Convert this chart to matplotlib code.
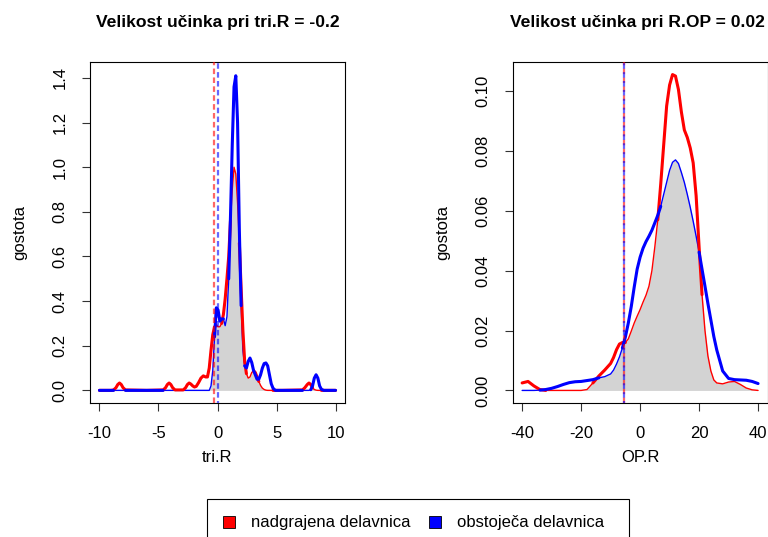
import numpy as np
import matplotlib
matplotlib.use("Agg")
import matplotlib.pyplot as plt
from matplotlib.patches import Rectangle

plt.rcParams['font.family'] = ['Liberation Sans', 'DejaVu Sans']

# ---------------- data ----------------
left_x = [-10, -9, -8.8, -8.6, -8.45, -8.3, -8.15, -8.0, -7.8, -6, -4.6, -4.4, -4.25, -4.1,
          -3.95, -3.8, -3.6, -2.9, -2.7, -2.55, -2.4, -2.25, -2.1, -1.95, -1.8, -1.6, -1.4,
          -1.2, -1.0, -0.85, -0.7, -0.55, -0.4, -0.25, -0.1, 0.05, 0.2, 0.35, 0.5, 0.65, 0.8,
          0.95, 1.1, 1.25, 1.4, 1.55, 1.7, 1.85, 2.0, 2.15, 2.3, 2.45, 2.6, 2.75, 2.9, 3.05,
          3.2, 3.35, 3.5, 3.65, 3.8, 3.95, 4.1, 4.25, 4.4, 4.55, 4.7, 4.9, 5.5, 7.2, 7.4, 7.6,
          7.75, 7.9, 8.05, 8.2, 8.35, 8.5, 8.65, 8.8, 9.0, 10]
left_red = [0, 0, 0.002, 0.012, 0.026, 0.033, 0.026, 0.012, 0.002, 0, 0.002, 0.012, 0.026, 0.033,
            0.026, 0.012, 0.002, 0.002, 0.012, 0.026, 0.033, 0.028, 0.02, 0.015, 0.018, 0.035, 0.055,
            0.065, 0.06, 0.06, 0.1, 0.18, 0.25, 0.285, 0.29, 0.285, 0.285, 0.3, 0.34, 0.41, 0.5,
            0.6, 0.76, 0.9, 1.0, 0.97, 0.84, 0.66, 0.46, 0.27, 0.13, 0.075, 0.055, 0.06, 0.08, 0.088,
            0.08, 0.06, 0.04, 0.022, 0.01, 0.004, 0.001, 0, 0, 0, 0, 0, 0, 0.002, 0.012, 0.026,
            0.033, 0.026, 0.012, 0.004, 0.001, 0, 0, 0, 0, 0]
left_blue = [0, 0, 0, 0, 0, 0, 0, 0, 0, 0, 0, 0, 0, 0,
             0, 0, 0, 0, 0, 0, 0, 0, 0, 0, 0, 0, 0,
             0, 0, 0, 0, 0.02, 0.09, 0.24, 0.37, 0.36, 0.31, 0.32, 0.32, 0.29, 0.33,
             0.5, 0.78, 1.1, 1.36, 1.41, 1.2, 0.72, 0.38, 0.18, 0.11, 0.1, 0.13, 0.145, 0.125, 0.09,
             0.07, 0.05, 0.05, 0.07, 0.1, 0.12, 0.123, 0.11, 0.07, 0.03, 0.01, 0, 0, 0, 0, 0,
             0, 0.003, 0.02, 0.055, 0.07, 0.055, 0.02, 0.005, 0, 0]
left_ref_red = -0.3
left_ref_blue = 0.02

right_x = [-40, -38, -36, -34, -32, -30, -28, -26, -24, -22, -20, -18, -16, -14, -12, -10,
           -9, -8, -7, -6, -5, -4, -3, -2, -1, 0, 1, 2, 3, 4, 5, 6, 7, 8, 9, 10, 11, 12, 13,
           14, 15, 16, 17, 18, 19, 20, 21, 22, 23, 24, 25, 26, 28, 30, 32, 34, 36, 38, 40]
right_red = [0.0025, 0.003, 0.0015, 0.0003, 0, 0, 0, 0, 0, 0, 0, 0.0003, 0.0025, 0.0048, 0.0068, 0.009,
             0.011, 0.0136, 0.0155, 0.016, 0.016, 0.0172, 0.0198, 0.0225, 0.0248, 0.027, 0.0295, 0.0318,
             0.0348, 0.040, 0.048, 0.057, 0.069, 0.082, 0.095, 0.102, 0.1055, 0.105, 0.1005,
             0.093, 0.087, 0.0845, 0.081, 0.076, 0.065, 0.048, 0.032, 0.02, 0.0115, 0.0065, 0.0035,
             0.0025, 0.0022, 0.0028, 0.003, 0.002, 0.0008, 0.0002, 0.0]
right_blue = [0, 0, 0, 0.0001, 0.0003, 0.0007, 0.0013, 0.002, 0.0026, 0.0029, 0.003, 0.0033, 0.0036,
              0.0042, 0.0046, 0.0055, 0.0068, 0.0088, 0.0112, 0.0142, 0.0178, 0.0225, 0.028, 0.0345,
              0.0405, 0.0445, 0.0475, 0.0497, 0.0515, 0.0535, 0.056, 0.0585, 0.0615, 0.0655, 0.0695,
              0.0735, 0.0762, 0.077, 0.0758, 0.0728, 0.0695, 0.0655, 0.0612, 0.0565, 0.0515, 0.0462,
              0.0405, 0.0348, 0.029, 0.0235, 0.018, 0.0135, 0.0065, 0.004, 0.0036, 0.0035, 0.0034,
              0.003, 0.0023]
right_ref_red = -5.5
right_ref_blue = -5.5

titles = ['Velikost učinka pri tri.R = -0.2', 'Velikost učinka pri R.OP = 0.02']
xlabels = ['tri.R', 'OP.R']
ylabel = 'gostota'
left_xticks = [-10, -5, 0, 5, 10]
left_yticks = [0.0, 0.2, 0.4, 0.6, 0.8, 1.0, 1.2, 1.4]
right_xticks = [-40, -20, 0, 20, 40]
right_yticks = [0.00, 0.02, 0.04, 0.06, 0.08, 0.10]
legend_labels = ['nadgrajena delavnica', 'obstoječa delavnica']
legend_colors = ['#FF0000', '#0000FF']

# ---------------- figure ----------------
W, H = 768, 537
fig = plt.figure(figsize=(W / 100, H / 100), dpi=100)


def rect(l, r, t, b):
    return [l / W, 1 - b / H, (r - l) / W, (b - t) / H]


FS = 12
TFS = 12.6


def panel(ax, x, red, blue, ref_r, ref_b, xlim, ylim, xt, yt, yfmt):
    x = np.asarray(x, float)
    red = np.asarray(red, float)
    blue = np.asarray(blue, float)
    ov = np.minimum(red, blue)
    ax.fill_between(x, 0, ov, color='#D3D3D3', lw=0, zorder=1)

    def thick_mask(a, b):
        m = a >= b - 1e-9
        m2 = m.copy()
        m2[1:] |= m[:-1]
        m2[:-1] |= m[1:]
        return m2

    mr = thick_mask(red, blue)
    mb = thick_mask(blue, red)
    ax.plot(x, red, color='#FF0000', lw=1.0, zorder=2, solid_capstyle='round')
    ax.plot(x, blue, color='#0000FF', lw=1.0, zorder=2, solid_capstyle='round')
    ax.plot(x, np.where(mr, red, np.nan), color='#FF0000', lw=2.2, zorder=3,
            solid_capstyle='round', solid_joinstyle='round')
    ax.plot(x, np.where(mb, blue, np.nan), color='#0000FF', lw=2.2, zorder=4,
            solid_capstyle='round', solid_joinstyle='round')
    ax.axvline(ref_r, color='#FF0000', alpha=0.6, lw=1.6, ls=(0, (2.5, 1.5)), zorder=5)
    ax.axvline(ref_b, color='#0000FF', alpha=0.6, lw=1.6, ls=(1.6, (2.5, 1.5)), zorder=6)

    ax.set_xlim(*xlim)
    ax.set_ylim(*ylim)
    ax.set_xticks(xt)
    ax.set_yticks(yt)
    ax.set_yticklabels([yfmt % v for v in yt], rotation=90, va='center')
    ax.set_xticklabels([str(v) for v in xt])
    ax.tick_params(direction='out', length=5.8, width=0.8, pad=10.5, labelsize=FS,
                   color='#333333')
    for s in ax.spines.values():
        s.set_linewidth(0.8)


ax1 = fig.add_axes(rect(90, 345, 62, 403))
panel(ax1, left_x, left_red, left_blue, left_ref_red, left_ref_blue,
      (-10.8, 10.8), (-0.0566, 1.4716), left_xticks, left_yticks, '%.1f')
ax2 = fig.add_axes(rect(512.7, 767.5, 62, 403))
panel(ax2, right_x, right_red, right_blue, right_ref_red, right_ref_blue,
      (-43.2, 43.2), (-0.0042, 0.1097), right_xticks, right_yticks, '%.2f')

# titles / axis labels at R-like positions
fig.text(217.5 / W, 1 - 22 / H, titles[0], ha='center', va='center', fontsize=TFS, fontweight='bold')
fig.text(637 / W, 1 - 22 / H, titles[1], ha='center', va='center', fontsize=TFS, fontweight='bold')
fig.text(217.5 / W, 1 - 458 / H, xlabels[0], ha='center', va='center', fontsize=FS)
fig.text(640 / W, 1 - 458 / H, xlabels[1], ha='center', va='center', fontsize=FS)
fig.text(20 / W, 1 - 232 / H, ylabel, ha='center', va='center', rotation=90, fontsize=FS)
fig.text(443 / W, 1 - 232 / H, ylabel, ha='center', va='center', rotation=90, fontsize=FS)

# legend (bottom, box extends past the figure edge)
fig.patches.append(Rectangle((207 / W, -0.05), (629 - 207) / W, 0.05 + (537 - 499) / H,
                             transform=fig.transFigure, fill=False, edgecolor='black', lw=0.8))
sq = 12
for cx, col, tx, lab in [(229, legend_colors[0], 251, legend_labels[0]),
                         (435, legend_colors[1], 457, legend_labels[1])]:
    fig.patches.append(Rectangle(((cx - sq / 2) / W, 1 - (522 + sq / 2) / H), sq / W, sq / H,
                                 transform=fig.transFigure, facecolor=col, edgecolor='black', lw=0.6))
    fig.text(tx / W, 1 - 522 / H, lab, ha='left', va='center', fontsize=FS)

fig.savefig('out.png', dpi=100)
